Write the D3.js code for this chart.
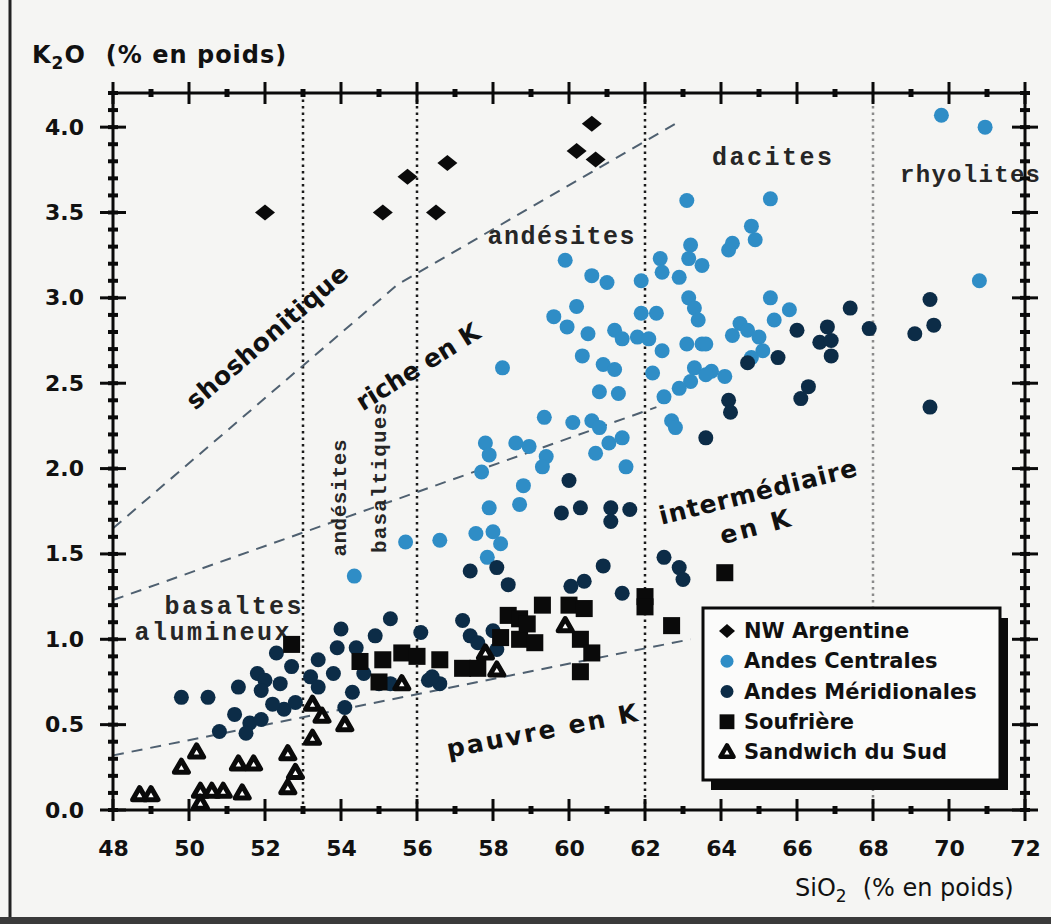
<!DOCTYPE html>
<html>
<head>
<meta charset="utf-8">
<script src="https://cdn.jsdelivr.net/npm/d3@7"></script>
<style>
  body { margin: 0; background: #f5f5f3; }
  svg { display: block; }
</style>
</head>
<body>
<svg id="chart" width="1051" height="924"></svg>
<script>
// axis ticks
const xMajor = [48, 50, 52, 54, 56, 58, 60, 62, 64, 66, 68, 70, 72];
const xLabels = ['48', '50', '52', '54', '56', '58', '60', '62', '64', '66', '68', '70', '72'];
const xMinor = [49, 51, 53, 55, 57, 59, 61, 63, 65, 67, 69, 71];
const yMajor = [0, 0.5, 1, 1.5, 2, 2.5, 3, 3.5, 4];
const yLabels = ['0.0', '0.5', '1.0', '1.5', '2.0', '2.5', '3.0', '3.5', '4.0'];
const yMinor = d3.range(0, 4.21, 0.1);

// series: [SiO2, K2O]
const nwArgentine = [[52.0, 3.50], [55.1, 3.50], [55.75, 3.71], [56.5, 3.50], [56.8, 3.79],
  [60.2, 3.86], [60.6, 4.02], [60.7, 3.81]];

const andesCentrales = [[59.9, 3.22], [60.6, 3.13], [61.0, 3.09], [60.2, 2.95], [59.6, 2.89],
  [59.95, 2.83], [60.5, 2.79], [61.2, 2.81], [61.4, 2.76], [61.8, 2.77], [62.1, 2.76],
  [62.45, 2.69], [61.9, 2.91], [62.3, 2.91], [63.15, 3.0], [63.3, 2.94], [63.4, 2.87],
  [63.1, 2.73], [63.5, 2.73], [60.35, 2.66], [60.9, 2.61], [61.2, 2.58], [60.8, 2.45],
  [61.3, 2.44], [62.2, 2.56], [63.3, 2.59], [63.75, 2.57], [64.1, 2.54], [63.2, 2.51],
  [62.9, 2.47], [62.5, 2.42], [62.7, 2.28], [62.8, 2.24], [59.35, 2.30], [60.1, 2.27],
  [60.6, 2.28], [60.8, 2.24], [58.6, 2.15], [58.95, 2.13], [59.4, 2.07], [59.3, 2.01],
  [60.7, 2.09], [61.05, 2.15], [61.4, 2.18], [61.5, 2.01], [58.25, 2.59], [63.1, 3.57],
  [65.3, 3.58], [64.8, 3.42], [64.9, 3.34], [64.3, 3.32], [64.2, 3.28], [63.2, 3.31],
  [63.15, 3.23], [63.5, 3.19], [62.4, 3.23], [62.45, 3.15], [62.9, 3.12], [61.9, 3.10],
  [65.3, 3.0], [64.5, 2.85], [64.7, 2.81], [64.3, 2.78], [65.0, 2.77], [65.4, 2.87],
  [65.8, 2.93], [65.1, 2.69], [64.8, 2.65], [63.6, 2.73], [63.6, 2.55], [69.8, 4.07],
  [70.95, 4.0], [70.8, 3.10], [54.35, 1.37], [55.7, 1.57], [56.6, 1.58], [57.55, 1.62],
  [58.0, 1.63], [58.2, 1.56], [57.85, 1.48], [57.9, 1.77], [58.7, 1.79], [58.8, 1.90],
  [57.8, 2.15], [57.9, 2.08], [57.7, 1.98]];

const andesMeridionales = [[49.8, 0.66], [50.5, 0.66], [50.8, 0.46], [51.3, 0.72], [51.6, 0.51],
  [51.5, 0.45], [51.9, 0.53], [51.8, 0.80], [52.0, 0.76], [51.9, 0.70], [52.4, 0.74],
  [52.5, 0.59], [52.3, 0.92], [52.7, 0.84], [52.8, 0.63], [53.2, 0.78], [53.4, 0.88],
  [53.4, 0.72], [53.8, 0.80], [54.0, 1.06], [53.9, 0.95], [54.1, 0.60], [54.4, 0.95],
  [54.6, 0.80], [54.9, 1.02], [55.3, 1.12], [55.0, 0.74], [55.3, 0.74], [56.1, 1.04],
  [56.3, 0.76], [56.6, 0.74], [54.3, 0.69], [51.2, 0.56], [52.2, 0.62],
  [56.4, 0.78], [57.2, 1.11], [57.4, 1.02], [57.6, 0.98], [58.0, 1.05], [58.1, 0.94],
  [57.4, 1.40], [58.1, 1.42], [58.4, 1.32], [59.8, 1.74], [60.3, 1.77], [60.0, 1.93],
  [61.1, 1.77], [61.6, 1.76], [61.1, 1.69], [60.9, 1.43], [60.05, 1.31], [60.4, 1.34],
  [61.4, 1.27], [62.5, 1.48], [62.9, 1.42], [63.0, 1.35],
  [64.2, 2.40], [64.25, 2.33], [63.6, 2.18], [66.3, 2.48], [66.1, 2.41], [67.4, 2.94],
  [66.8, 2.83], [66.0, 2.81], [66.6, 2.74], [66.9, 2.75], [66.9, 2.66], [67.9, 2.82],
  [65.5, 2.65], [64.7, 2.62], [69.1, 2.79], [69.6, 2.84], [69.5, 2.36], [69.5, 2.99]];

const soufriere = [[52.7, 0.97], [54.5, 0.87], [55.1, 0.88], [55.6, 0.92], [56.0, 0.90],
  [56.6, 0.88], [55.0, 0.75], [57.2, 0.83], [57.6, 0.83], [58.4, 1.14], [58.7, 1.12],
  [58.2, 1.01], [58.7, 1.00], [59.1, 0.98], [59.3, 1.20], [58.9, 1.09], [60.0, 1.20],
  [60.4, 1.18], [60.3, 1.00], [60.6, 0.92], [60.3, 0.81], [62.0, 1.25], [62.0, 1.19],
  [62.7, 1.08], [64.1, 1.39]];

const sandwichSud = [[48.7, 0.09], [49.0, 0.09], [49.8, 0.25], [50.2, 0.34], [50.3, 0.11],
  [50.3, 0.04], [50.6, 0.11], [50.9, 0.11], [51.4, 0.10], [51.3, 0.27], [51.7, 0.27],
  [52.6, 0.33], [52.6, 0.13], [52.8, 0.22], [53.25, 0.42], [53.5, 0.55], [54.1, 0.50],
  [53.25, 0.62], [55.6, 0.74], [57.8, 0.92], [58.1, 0.82], [59.9, 1.08]];

// field boundaries
const limShoshonitique = [[48, 1.65], [55.5, 3.08], [62.8, 4.02]];
const limRicheK = [[48, 1.23], [62.3, 2.36]];
const limPauvreK = [[48, 0.32], [63.2, 1.0]];
const limSilice = [53, 56, 62, 68];

const legendNames = ['NW Argentine', 'Andes Centrales', 'Andes Méridionales', 'Soufrière', 'Sandwich du Sud'];

const svg = d3.select('#chart');
const x = d3.scaleLinear().domain([48, 72]).range([113, 1025]);
const y = d3.scaleLinear().domain([0, 4.2]).range([810, 93]);

const sans = 'DejaVu Sans, Liberation Sans, sans-serif';
const mono = 'Liberation Mono, DejaVu Sans Mono, monospace';
const cBlue = '#2f8dc6';
const cNavy = '#0c2c47';

// page edge
svg.append('line').attr('x1', 10).attr('x2', 10).attr('y1', 0).attr('y2', 924)
  .attr('stroke', '#222').attr('stroke-width', 3);
svg.append('rect').attr('x', 0).attr('y', 917).attr('width', 1051).attr('height', 7).attr('fill', '#3a3a3a');

// vertical silica limits
svg.selectAll('.lim-si').data(limSilice).join('line')
  .attr('class', 'lim-si')
  .attr('x1', d => x(d)).attr('x2', d => x(d))
  .attr('y1', y(4.2)).attr('y2', y(0))
  .attr('stroke', d => d === 68 ? '#8a8a8a' : '#1a1a1a')
  .attr('stroke-width', 2.5)
  .attr('stroke-dasharray', '2.5,4');

// dashed K limits
const line = d3.line().x(d => x(d[0])).y(d => y(d[1]));
svg.selectAll('.lim-k').data([limShoshonitique, limRicheK, limPauvreK]).join('path')
  .attr('class', 'lim-k')
  .attr('d', line)
  .attr('fill', 'none')
  .attr('stroke', '#4f6070')
  .attr('stroke-width', 2)
  .attr('stroke-dasharray', '11,8');

// monospace field names
const monoLabel = (txt, cx, cy, len, rot, size) => svg.append('text')
  .attr('transform', `translate(${cx},${cy}) rotate(${rot})`)
  .attr('text-anchor', 'middle').attr('dominant-baseline', 'central')
  .attr('font-family', mono).attr('font-weight', 'bold').attr('font-size', size)
  .attr('fill', '#262626')
  .attr('textLength', len).attr('lengthAdjust', 'spacing')
  .text(txt);
monoLabel('basaltes', 233, 607, 137, 0, 25);
monoLabel('alumineux', 212, 633, 155, 0, 25);
monoLabel('andésites', 340, 498, 117, -90, 21);
monoLabel('basaltiques', 380, 478, 150, -90, 21);
monoLabel('andésites', 561, 237, 147, 0, 25);
monoLabel('dacites', 772, 158, 120, 0, 25);
monoLabel('rhyolites', 970, 175, 140, 0, 24);

// bold field names
const boldLabel = (txt, cx, cy, len, rot, size) => svg.append('text')
  .attr('transform', `translate(${cx},${cy}) rotate(${rot})`)
  .attr('text-anchor', 'middle').attr('dominant-baseline', 'central')
  .attr('font-family', sans).attr('font-weight', 'bold').attr('font-size', size)
  .attr('fill', '#111')
  .attr('textLength', len).attr('lengthAdjust', 'spacing')
  .text(txt);
boldLabel('shoshonitique', 267, 337, 205, -41, 25);
boldLabel('riche en K', 418, 367, 141, -32, 25);
boldLabel('intermédiaire', 758, 492, 203, -14, 25);
boldLabel('en K', 755, 527, 72, -15, 25);
boldLabel('pauvre en K', 542, 731, 194, -11, 25);

// points
const diamond = 'M-10,0L0,-8L10,0L0,8Z';
svg.append('g').selectAll('path').data(nwArgentine).join('path')
  .attr('d', diamond)
  .attr('transform', d => `translate(${x(d[0])},${y(d[1])})`)
  .attr('fill', '#0a0a0a');

svg.append('g').selectAll('circle').data(andesCentrales).join('circle')
  .attr('cx', d => x(d[0])).attr('cy', d => y(d[1])).attr('r', 7.5)
  .attr('fill', cBlue);

svg.append('g').selectAll('circle').data(andesMeridionales).join('circle')
  .attr('cx', d => x(d[0])).attr('cy', d => y(d[1])).attr('r', 7.5)
  .attr('fill', cNavy);

const square = d3.symbol(d3.symbolSquare, 290);
svg.append('g').selectAll('path').data(soufriere).join('path')
  .attr('d', square)
  .attr('transform', d => `translate(${x(d[0])},${y(d[1])})`)
  .attr('fill', '#0a0a0a');

const tri = d3.symbol(d3.symbolTriangle, 85);
svg.append('g').selectAll('path').data(sandwichSud).join('path')
  .attr('d', tri)
  .attr('transform', d => `translate(${x(d[0])},${y(d[1]) + 1})`)
  .attr('fill', '#fff').attr('stroke', '#0a0a0a').attr('stroke-width', 5)
  .attr('stroke-linejoin', 'round');

// frame and ticks
svg.append('rect')
  .attr('x', x(48)).attr('y', y(4.2))
  .attr('width', x(72) - x(48)).attr('height', y(0) - y(4.2))
  .attr('fill', 'none').attr('stroke', '#0a0a0a').attr('stroke-width', 3);

const ticks = svg.append('g').attr('stroke', '#0a0a0a').attr('stroke-width', 3);
[y(0), y(4.2)].forEach(yy => {
  ticks.selectAll(null).data(xMajor).join('line')
    .attr('x1', d => x(d)).attr('x2', d => x(d)).attr('y1', yy - 11).attr('y2', yy + 11);
  ticks.selectAll(null).data(xMinor).join('line')
    .attr('x1', d => x(d)).attr('x2', d => x(d)).attr('y1', yy - 4).attr('y2', yy + 4)
    .attr('stroke-width', 5);
});
[x(48), x(72)].forEach(xx => {
  ticks.selectAll(null).data(yMajor).join('line')
    .attr('y1', d => y(d)).attr('y2', d => y(d)).attr('x1', xx - 13).attr('x2', xx + 13);
  ticks.selectAll(null).data(yMinor).join('line')
    .attr('y1', d => y(d)).attr('y2', d => y(d)).attr('x1', xx - 5).attr('x2', xx + 5)
    .attr('stroke-width', 4);
});

// tick labels through d3 axes
const gx = svg.append('g').attr('transform', `translate(0,${y(0)})`)
  .call(d3.axisBottom(x).tickValues(xMajor).tickFormat((d, i) => xLabels[i]).tickSize(0).tickPadding(30));
const gy = svg.append('g').attr('transform', `translate(${x(48)},0)`)
  .call(d3.axisLeft(y).tickValues(yMajor).tickFormat((d, i) => yLabels[i]).tickSize(0).tickPadding(29));
[gx, gy].forEach(g => {
  g.select('.domain').remove();
  g.selectAll('text').attr('font-family', sans).attr('font-weight', 'bold')
    .attr('font-size', 22).attr('fill', '#111');
});

// axis titles
const yt = svg.append('text').attr('x', 32).attr('y', 63)
  .attr('font-family', sans).attr('font-weight', 'bold').attr('font-size', 24)
  .attr('letter-spacing', 1).attr('fill', '#111');
yt.append('tspan').text('K');
yt.append('tspan').attr('dy', 6).attr('font-size', 17).text('2');
yt.append('tspan').attr('dy', -6).text('O');
yt.append('tspan').attr('dx', 20).text('(% en poids)');

const xt = svg.append('text').attr('x', 795).attr('y', 896)
  .attr('font-family', sans).attr('font-size', 24).attr('fill', '#111');
xt.append('tspan').text('SiO');
xt.append('tspan').attr('dy', 6).attr('font-size', 17).text('2');
xt.append('tspan').attr('dy', -6).attr('dx', 16).text('(% en poids)');

// legend
const lg = svg.append('g');
lg.append('rect').attr('x', 711).attr('y', 618).attr('width', 297).attr('height', 172).attr('fill', '#0a0a0a');
lg.append('rect').attr('x', 703).attr('y', 608).attr('width', 297).attr('height', 172)
  .attr('fill', '#fbfbfa').attr('stroke', '#0a0a0a').attr('stroke-width', 3);
const rowY = d3.scalePoint().domain(legendNames).range([631, 752]);
const sym = lg.selectAll('.sym').data(legendNames).join('g')
  .attr('transform', d => `translate(727,${rowY(d)})`);
sym.filter((d, i) => i === 0).append('path').attr('d', 'M-8,0L0,-7L8,0L0,7Z').attr('fill', '#0a0a0a');
sym.filter((d, i) => i === 1).append('circle').attr('r', 6.5).attr('fill', cBlue);
sym.filter((d, i) => i === 2).append('circle').attr('r', 6.5).attr('fill', cNavy);
sym.filter((d, i) => i === 3).append('path').attr('d', d3.symbol(d3.symbolSquare, 220)).attr('fill', '#0a0a0a');
sym.filter((d, i) => i === 4).append('path').attr('d', d3.symbol(d3.symbolTriangle, 75))
  .attr('transform', 'translate(0,1)')
  .attr('fill', '#fff').attr('stroke', '#0a0a0a').attr('stroke-width', 4.5).attr('stroke-linejoin', 'round');
lg.selectAll('.lt').data(legendNames).join('text')
  .attr('x', 744).attr('y', d => rowY(d))
  .attr('dominant-baseline', 'central')
  .attr('font-family', sans).attr('font-weight', 'bold').attr('font-size', 21).attr('fill', '#111')
  .text(d => d);
</script>
</body>
</html>
